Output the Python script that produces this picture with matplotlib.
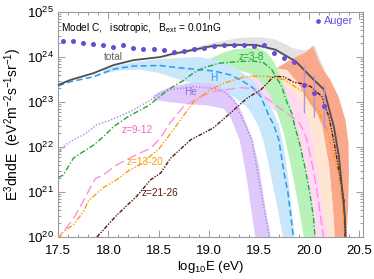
import numpy as np
import matplotlib
matplotlib.use("Agg")
import matplotlib.pyplot as plt
from matplotlib.ticker import LogLocator, LogFormatterMathtext, MultipleLocator, NullFormatter

plt.rcParams['font.family'] = ['Liberation Sans', 'DejaVu Sans']
plt.rcParams['mathtext.fontset'] = 'custom'
plt.rcParams['mathtext.rm'] = 'Liberation Sans'
plt.rcParams['mathtext.it'] = 'Liberation Sans:italic'

# ---------------- data (log10 E, log10 flux) ----------------
auger_x = [17.55, 17.65, 17.75, 17.85, 17.95, 18.05, 18.15, 18.25, 18.35, 18.45,
           18.55, 18.65, 18.75, 18.85, 18.95, 19.05, 19.15, 19.25, 19.35, 19.45,
           19.55, 19.65, 19.75, 19.85, 19.95, 20.05, 20.15]
auger_y = [24.36, 24.35, 24.31, 24.30, 24.27, 24.23, 24.26, 24.19, 24.17, 24.18,
           24.16, 24.12, 24.13, 24.17, 24.21, 24.24, 24.27, 24.27, 24.27, 24.25,
           24.27, 24.10, 23.97, 23.90, 23.38, 23.19, 22.91]
auger_err_x = [19.95, 20.05, 20.15]
auger_err_lo = [22.76, 22.67, 22.42]
auger_err_hi = [23.82, 23.60, 23.38]

total_x = [17.5, 17.62, 17.85, 18.05, 18.25, 18.52, 18.62, 18.85, 19.05, 19.25,
           19.47, 19.67, 19.87, 20.05, 20.15, 20.25, 20.30, 20.33, 20.36, 20.37]
total_y = [23.38, 23.49, 23.64, 23.82, 23.93, 24.00, 24.06, 24.16, 24.25, 24.27,
           24.27, 24.16, 23.90, 23.49, 23.28, 22.44, 21.78, 21.11, 20.44, 19.8]

h_x = [17.5, 17.62, 17.85, 18.05, 18.25, 18.52, 18.62, 18.85, 19.05, 19.22,
       19.35, 19.45, 19.52, 19.6, 19.65, 19.7, 19.75, 19.79, 19.84, 19.86]
h_y = [23.36, 23.45, 23.56, 23.73, 23.80, 23.81, 23.78, 23.73, 23.69, 23.60,
       23.45, 23.30, 23.12, 22.70, 22.49, 22.16, 21.45, 21.00, 20.10, 19.8]

he_x = [17.5, 17.55, 17.65, 17.75, 17.82, 17.88, 18.02, 18.22, 18.42, 18.52,
        18.62, 18.85, 19.05, 19.15, 19.25, 19.31, 19.38, 19.43, 19.48, 19.55, 19.6, 19.62]
he_y = [21.85, 22.01, 22.16, 22.27, 22.38, 22.49, 22.60, 22.79, 23.04, 23.21,
        23.27, 23.34, 23.30, 23.23, 23.04, 22.75, 22.42, 22.16, 21.53, 20.67, 20.08, 19.8]

z38_x = [17.5, 17.55, 17.65, 17.75, 17.85, 17.95, 18.05, 18.2, 18.4, 18.6,
         18.75, 18.85, 18.95, 19.1, 19.3, 19.45, 19.55, 19.63, 19.73, 19.78,
         19.83, 19.86, 19.9, 19.96, 20.01, 20.045, 20.065]
z38_y = [21.32, 21.38, 21.75, 21.90, 22.04, 22.23, 22.45, 22.68, 22.92, 23.28,
         23.48, 23.65, 23.76, 23.86, 23.90, 23.91, 23.87, 23.72, 23.34, 23.00,
         22.75, 22.45, 22.15, 21.56, 20.97, 20.45, 19.9]

z912_x = [17.5, 17.52, 17.65, 17.75, 17.82, 17.87, 17.95, 18.08, 18.3, 18.42,
          18.52, 18.62, 18.75, 18.92, 19.08, 19.2, 19.3, 19.43, 19.5, 19.6,
          19.7, 19.8, 19.9, 19.95, 19.98, 20.045, 20.095, 20.13, 20.16]
z912_y = [19.9, 20.04, 20.40, 20.80, 21.10, 21.30, 21.38, 21.60, 21.85, 21.97,
          22.20, 22.55, 22.90, 23.12, 23.25, 23.28, 23.32, 23.30, 23.20, 23.05,
          22.88, 22.72, 22.55, 22.35, 22.16, 21.49, 20.82, 20.23, 19.8]

z1320_x = [17.5, 17.55, 17.65, 17.75, 17.8, 17.85, 17.95, 18.08, 18.2, 18.33,
           18.5, 18.62, 18.75, 18.85, 19.0, 19.15, 19.27, 19.36, 19.53, 19.66,
           19.76, 19.86, 19.96, 20.01, 20.11, 20.18, 20.245, 20.295, 20.33, 20.35, 20.36]
z1320_y = [19.95, 20.12, 20.27, 20.56, 20.80, 20.90, 21.10, 21.27, 21.47, 21.63,
           21.95, 22.30, 22.70, 23.00, 23.25, 23.42, 23.50, 23.56, 23.58, 23.55,
           23.49, 23.34, 23.20, 23.04, 22.75, 22.38, 21.86, 21.42, 20.82, 20.30, 19.8]

z2126_x = [17.885, 18.085, 18.28, 18.42, 18.52, 18.62, 18.82, 19.045, 19.25, 19.38,
           19.52, 19.65, 19.75, 19.85, 19.95, 20.02, 20.13, 20.2, 20.26, 20.31,
           20.35, 20.365]
z2126_y = [20.0, 20.49, 20.90, 21.27, 21.42, 21.75, 22.16, 22.42, 22.82, 23.08,
           23.27, 23.57, 23.56, 23.44, 23.40, 23.34, 23.12, 22.67, 22.00, 21.34,
           20.82, 19.8]

# uncertainty bands: upper edge and lower edge (x, log y)
gray_up_x = [18.55, 18.7, 18.9, 19.1, 19.3, 19.5, 19.65, 19.75, 19.85, 19.95, 20.03, 20.06, 20.12, 20.2]
gray_up_y = [24.03, 24.12, 24.24, 24.34, 24.42, 24.44, 24.40, 24.30, 24.19, 24.15, 24.18, 24.25, 23.90, 23.50]
gray_lo_x = [18.55, 18.85, 19.05, 19.25, 19.47, 19.67, 19.87, 20.05, 20.2]
gray_lo_y = [23.98, 24.12, 24.21, 24.23, 24.23, 24.12, 23.86, 23.45, 23.0]

h_up_x = [17.95, 18.1, 18.3, 18.5, 18.7, 18.9, 19.1, 19.25, 19.4, 19.5, 19.6, 19.65, 19.7, 19.75, 19.8, 19.85, 19.88]
h_up_y = [23.72, 23.82, 23.90, 23.95, 23.98, 24.0, 23.92, 23.78, 23.55, 23.35, 23.0, 22.75, 22.5, 22.0, 21.2, 20.2, 19.5]
h_lo_x = [17.95, 18.1, 18.3, 18.5, 18.7, 18.9, 19.1, 19.25, 19.4, 19.5, 19.55, 19.6, 19.65, 19.7, 19.75, 19.78]
h_lo_y = [23.62, 23.70, 23.72, 23.65, 23.50, 23.38, 23.30, 23.12, 22.85, 22.45, 22.1, 21.6, 21.05, 20.5, 19.9, 19.5]

he_up_x = [18.45, 18.6, 18.8, 19.0, 19.1, 19.2, 19.3, 19.38, 19.44, 19.5, 19.57, 19.62, 19.65]
he_up_y = [23.15, 23.32, 23.42, 23.42, 23.36, 23.22, 22.92, 22.5, 22.16, 21.6, 20.6, 20.0, 19.5]
he_lo_x = [18.45, 18.6, 18.8, 19.0, 19.15, 19.22, 19.31, 19.38, 19.46, 19.5]
he_lo_y = [23.05, 23.0, 22.95, 22.92, 22.85, 22.65, 22.16, 21.3, 20.08, 19.5]

g_up_x = [18.85, 18.95, 19.05, 19.15, 19.25, 19.4, 19.5, 19.58, 19.65, 19.7, 19.75, 19.8, 19.85, 19.9, 19.95, 20.0, 20.05, 20.08]
g_up_y = [23.7, 23.88, 24.0, 24.1, 24.17, 24.2, 24.2, 24.1, 23.9, 23.65, 23.35, 23.0, 22.65, 22.2, 21.7, 21.1, 20.4, 19.5]
g_lo_x = [18.85, 19.0, 19.1, 19.2, 19.3, 19.4, 19.5, 19.6, 19.65, 19.7, 19.75, 19.8, 19.85, 19.9, 19.95, 19.98]
g_lo_y = [23.62, 23.68, 23.72, 23.72, 23.70, 23.64, 23.5, 23.2, 22.95, 22.65, 22.3, 21.8, 21.25, 20.65, 20.0, 19.5]

p_up_x = [19.2, 19.4, 19.55, 19.7, 19.85, 19.95, 20.01, 20.08, 20.14, 20.18, 20.2]
p_up_y = [23.35, 23.5, 23.55, 23.45, 23.2, 22.9, 22.49, 21.6, 20.64, 20.1, 19.5]
p_lo_x = [19.2, 19.4, 19.55, 19.7, 19.83, 19.92, 20.02, 20.05, 20.08]
p_lo_y = [23.2, 23.15, 23.0, 22.75, 22.49, 21.6, 20.64, 20.0, 19.5]

o_up_x = [19.3, 19.5, 19.65, 19.78, 19.9, 20.0, 20.08, 20.13, 20.2, 20.24, 20.26, 20.27]
o_up_y = [23.5, 23.65, 23.75, 23.72, 23.4, 23.0, 22.75, 22.49, 21.6, 20.64, 20.0, 19.5]
o_lo_x = [19.3, 19.6, 19.8, 19.95, 20.01, 20.14, 20.2]
o_lo_y = [23.3, 23.3, 23.1, 22.8, 22.49, 20.64, 19.5]

s_up_x = [19.38, 19.5, 19.6, 19.7, 19.8, 19.9, 19.97, 20.04, 20.1, 20.145, 20.215, 20.295, 20.365, 20.395, 20.4, 20.39, 20.37]
s_up_y = [23.22, 23.45, 23.62, 23.78, 23.92, 24.03, 24.10, 24.25, 23.9, 23.71, 23.49, 23.12, 22.6, 22.09, 21.4, 20.6, 19.8]
s_lo_x = [19.38, 19.5, 19.7, 19.9, 20.05, 20.13, 20.2, 20.24, 20.25, 20.26]
s_lo_y = [23.22, 23.2, 23.2, 23.0, 22.75, 22.49, 21.6, 20.64, 20.0, 19.5]

# ---------------- colours ----------------
C_AUGER = '#6a4ad8'
C_TOTAL = '#505050'
C_H = '#2b9bf0'
C_HE = '#a58be8'
C_G = '#22a83a'
C_P = '#ff8ee0'
C_O = '#ff9a10'
C_B = '#5a1a10'

fig = plt.figure(figsize=(3.74, 2.79), dpi=100)
ax = fig.add_axes([58.3/374, 42/279, 304.7/374, 225/279])

def p(v):
    return np.power(10.0, np.asarray(v, dtype=float))

def band(ux, uy, lx, ly, color, z):
    xs = list(ux) + list(lx)[::-1]
    ys = list(uy) + list(ly)[::-1]
    ax.fill(xs, p(ys), color=color, lw=0, zorder=z)

band(gray_up_x, gray_up_y, gray_lo_x, gray_lo_y, '#e2e2e2', 1)
band(s_up_x, s_up_y, s_lo_x, s_lo_y, '#f9a88c', 2)
band(o_up_x, o_up_y, o_lo_x, o_lo_y, '#ffe6d2', 3)
band(p_up_x, p_up_y, p_lo_x, p_lo_y, '#ffd9f3', 4)
band(g_up_x, g_up_y, g_lo_x, g_lo_y, '#b8f2b8', 5)
band(h_up_x, h_up_y, h_lo_x, h_lo_y, '#c9e7fb', 6)
band(he_up_x, he_up_y, he_lo_x, he_lo_y, '#e0c9fa', 7)

ax.plot(he_x, p(he_y), color=C_HE, lw=1.0, ls=(0, (1, 1.3)), zorder=10)
ax.plot(h_x, p(h_y), color=C_H, lw=1.1, ls=(0, (4, 2.2)), zorder=10)
ax.plot(z38_x, p(z38_y), color=C_G, lw=1.0, ls=(0, (4, 1.5, 1, 1.5)), zorder=10)
ax.plot(z912_x, p(z912_y), color=C_P, lw=1.0, ls=(0, (7, 3)), zorder=10)
ax.plot(z1320_x, p(z1320_y), color=C_O, lw=1.0, ls=(0, (4, 1.3, 1, 1.3, 1, 1.3)), zorder=10)
ax.plot(z2126_x, p(z2126_y), color=C_B, lw=1.0, ls=(0, (3, 1, 1, 1, 1, 1)), zorder=10)
ax.plot(total_x, p(total_y), color=C_TOTAL, lw=1.3, zorder=11)

# Auger
ax.vlines(auger_err_x, p(auger_err_lo), p(auger_err_hi), color='#b394d6', lw=1.0, zorder=12)
ax.plot(auger_x, p(auger_y), 'o', color=C_AUGER, ms=3.6, mec='none', zorder=13)

ax.set_yscale('log')
ax.set_xlim(17.5, 20.54)
ax.set_ylim(1e20, 1e25)

ax.xaxis.set_major_locator(MultipleLocator(0.5))
ax.xaxis.set_minor_locator(MultipleLocator(0.1))
ax.xaxis.set_major_formatter(matplotlib.ticker.FormatStrFormatter('%.1f'))
ax.yaxis.set_major_locator(LogLocator(base=10, numticks=10))
ax.yaxis.set_minor_locator(LogLocator(base=10, subs=np.arange(2, 10), numticks=20))
ax.yaxis.set_minor_formatter(NullFormatter())
ax.yaxis.set_major_formatter(LogFormatterMathtext())

frame_c = '#9a9a9a'
for s in ax.spines.values():
    s.set_color(frame_c)
    s.set_linewidth(0.8)
ax.tick_params(which='both', direction='in', top=True, right=True, color=frame_c, labelsize=9.5, width=0.7)
ax.tick_params(which='major', length=5)
ax.tick_params(which='minor', length=2.5)
ax.tick_params(axis='x', pad=6)
ax.tick_params(axis='y', pad=3)

ax.set_xlabel(r'log$_{10}$E (eV)', fontsize=9.5, labelpad=1)
ax.set_ylabel(r'E$^3$dndE  (eV$^2$m$^{-2}$s$^{-1}$sr$^{-1}$)', fontsize=10, labelpad=2)

# annotations
ax.text(0.01, 0.93, r'Model C,   isotropic,   B$_{\rm ext}$ = 0.01nG', transform=ax.transAxes,
        fontsize=7.3, color='black', ha='left', va='center', zorder=20)
ax.plot([20.09], [p(24.8)], 'o', color=C_AUGER, ms=3.4, mec='none', zorder=20)
ax.text(20.15, p(24.8), 'Auger', color=C_AUGER, fontsize=7.8, ha='left', va='center', zorder=20)

lab = dict(fontsize=7.2, ha='center', va='center', zorder=20)
ax.text(18.05, p(24.0), 'total', color='#606060', **lab)
ax.text(19.055, p(23.53), 'H', color=C_H, **lab)
ax.text(18.815, p(23.22), 'He', color='#8a6fdc', **lab)
ax.text(19.43, p(24.0), 'z=3-8', color=C_G, **lab)
ax.text(18.285, p(22.38), 'z=9-12', color='#f060d0', **lab)
ax.text(18.365, p(21.67), 'z=13-20', color=C_O, **lab)
ax.text(18.515, p(20.98), 'z=21-26', color=C_B, **lab)

fig.savefig('out.png', dpi=100)
